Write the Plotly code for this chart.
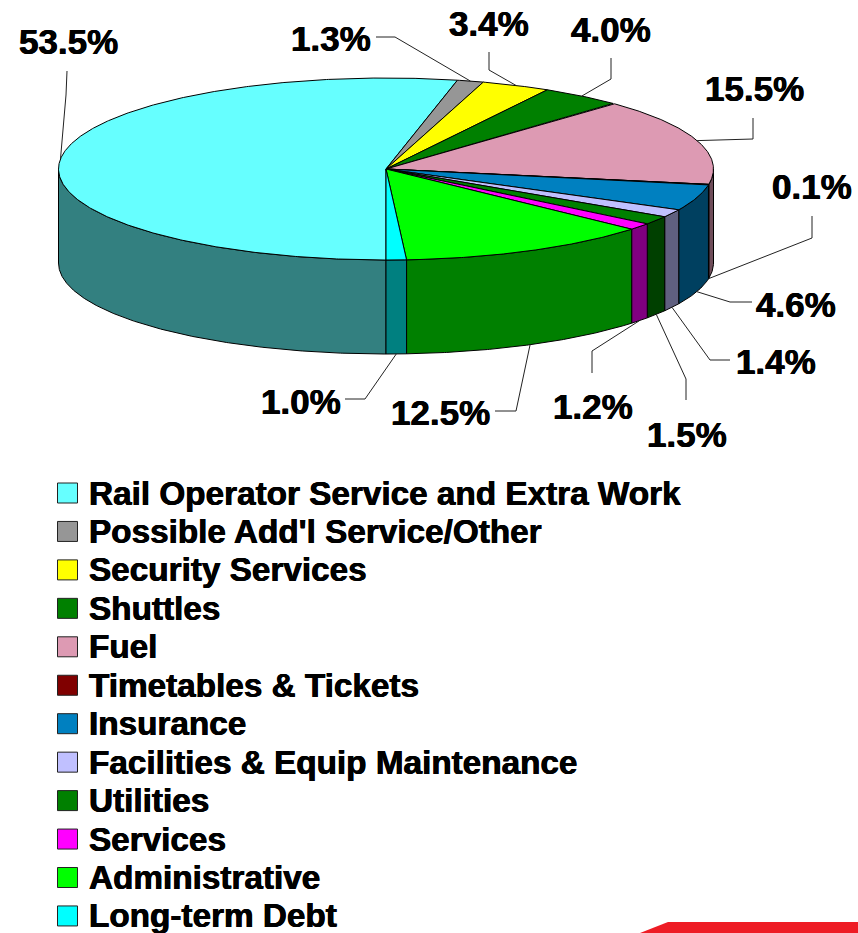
import numpy as np
import plotly.graph_objects as go

# ---- data ----
categories = ["Rail Operator Service and Extra Work", "Possible Add'l Service/Other", "Security Services",
              "Shuttles", "Fuel", "Timetables & Tickets", "Insurance", "Facilities & Equip Maintenance",
              "Utilities", "Services", "Administrative", "Long-term Debt"]
values = [53.5, 1.3, 3.4, 4.0, 15.5, 0.1, 4.6, 1.4, 1.5, 1.2, 12.5, 1.0]
top_colors = ["#66FFFF", "#969696", "#FFFF00", "#008000", "#DD9AB3", "#800000",
              "#0080C0", "#C0C0FF", "#008000", "#FF00FF", "#00FF00", "#00FFFF"]
side_colors = ["#338080", "#4B4B4B", "#808000", "#004000", "#6F4D5A", "#400000",
               "#004060", "#606080", "#004000", "#800080", "#008000", "#008080"]

# ---- geometry / layout (pixel space of the page) ----
W, H = 858, 933
CX, CY, RX, RY, DEPTH = 386, 169, 327.5, 91, 94
# label centre (x, y), then the elbow of the leader and its free end
label_pos = [(68, 41), (331, 38), (489, 23), (611, 29), (754, 88), (812, 186),
             (796, 304), (776, 361), (687, 434), (593, 406), (440, 412), (301, 401)]
leader_mid = [(66, 95), (395, 37), (489, 70), (611, 79), (753, 139), (812, 238),
              (730, 302), (710, 360), (686, 379), (592, 351), (516, 411), (365, 399)]
leader_end = [(67, 71), (376, 37), (489, 52), (611, 58), (753, 118), (812, 216),
              (752, 302), (730, 360), (686, 400), (592, 373), (495, 411), (345, 399)]
on_side = [False, False, False, False, False, True, True, True, True, True, True, True]

legend_x_swatch, legend_x_text, legend_y0, legend_dy = 67.5, 86.5, 493, 38.45
FONT = "Liberation Sans"
HEAVY = "0.4px 0 0 #000, -0.4px 0 0 #000"

total = sum(values)
edges = np.cumsum([0] + values) / total * 360.0


def rim(theta_deg, dy=0.0):
    """Point on the ellipse; angle runs clockwise on screen from straight down."""
    t = np.radians(theta_deg)
    return CX - RX * np.sin(t), CY + RY * np.cos(t) + dy


fig = go.Figure()


def poly(xs, ys, fill):
    fig.add_trace(go.Scatter(x=list(xs), y=list(ys), mode="lines", fill="toself", fillcolor=fill,
                             line=dict(color="#000000", width=1), hoverinfo="skip", showlegend=False))


# side walls: only the front half of the rim (0-90 and 270-360 degrees) can be seen
walls = []
for i in range(len(values)):
    a, b = edges[i], edges[i + 1]
    for lo, hi in ((0, 90), (270, 360)):
        s, e = max(a, lo), min(b, hi)
        if e > s:
            walls.append((i, s, e))
# paint from the outer edges toward the viewer
walls.sort(key=lambda w: np.cos(np.radians((w[1] + w[2]) / 2)))
for i, s, e in walls:
    th = np.linspace(s, e, max(3, int((e - s) * 3)))
    x1, y1 = rim(th)
    x2, y2 = rim(th[::-1], DEPTH)
    poly(np.r_[x1, x2, x1[0]], np.r_[y1, y2, y1[0]], side_colors[i])

# top face
for i in range(len(values)):
    th = np.linspace(edges[i], edges[i + 1], max(3, int((edges[i + 1] - edges[i]) * 3)))
    x, y = rim(th)
    poly(np.r_[CX, x, CX], np.r_[CY, y, CY], top_colors[i])

# leaders and percent labels
ann = []
for i, v in enumerate(values):
    mid = (edges[i] + edges[i + 1]) / 2
    ax, ay = rim(mid, DEPTH if on_side[i] else 0)
    fig.add_trace(go.Scatter(x=[ax, leader_mid[i][0], leader_end[i][0]],
                             y=[ay, leader_mid[i][1], leader_end[i][1]],
                             mode="lines", line=dict(color="#222222", width=1),
                             hoverinfo="skip", showlegend=False))
    ann.append(dict(x=label_pos[i][0], y=label_pos[i][1], xref="x", yref="y", text=f"<b>{v:.1f}%</b>",
                    showarrow=False, xanchor="center", yanchor="middle",
                    font=dict(family=FONT, size=35, color="#000000", shadow=HEAVY)))

# legend
ly = [legend_y0 + k * legend_dy for k in range(len(categories))]
fig.add_trace(go.Scatter(x=[legend_x_swatch] * len(categories), y=ly, mode="markers",
                         marker=dict(symbol="square", size=20, color=top_colors,
                                     line=dict(color="#222222", width=1)),
                         hoverinfo="skip", showlegend=False))
for name, y in zip(categories, ly):
    ann.append(dict(x=legend_x_text, y=y, xref="x", yref="y", text=f"<b>{name}</b>", showarrow=False,
                    xanchor="left", yanchor="middle",
                    font=dict(family=FONT, size=33.3, color="#000000", shadow=HEAVY)))

# corner logo fragment
shapes = [dict(type="path", path="M 640 933 L 668 922 L 858 922 L 858 933 Z", xref="x", yref="y",
               fillcolor="#EE1C25", line=dict(width=0), layer="below")]

fig.update_layout(width=W, height=H, margin=dict(l=0, r=0, t=0, b=0), paper_bgcolor="white",
                  plot_bgcolor="white", annotations=ann, shapes=shapes, showlegend=False,
                  xaxis=dict(range=[0, W], visible=False, fixedrange=True),
                  yaxis=dict(range=[H, 0], visible=False, fixedrange=True))
fig.write_html("out.html", config=dict(displayModeBar=False),
               post_script="document.body.style.margin='0';document.body.style.overflow='hidden';")
